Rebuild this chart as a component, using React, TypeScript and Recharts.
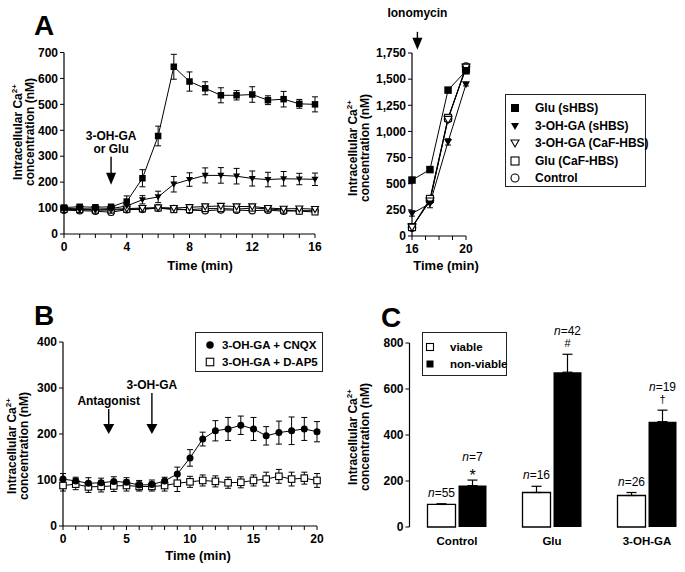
import React from "react"
import {
  ComposedChart,
  Line,
  Bar,
  XAxis,
  YAxis,
  ErrorBar,
  Legend,
  ReferenceDot,
} from "recharts"

const FONT = "'Liberation Sans', Arial, Helvetica, sans-serif"

// Panel A (left): Ca2+ time course, 0–16 min
const minutesA = [0, 1, 2, 3, 4, 5, 6, 7, 8, 9, 10, 11, 12, 13, 14, 15, 16]
const minuteLabelsA = [0, 4, 8, 12, 16]
const concTicksA = [0, 100, 200, 300, 400, 500, 600, 700]
const gluSHBS = [102, 105, 103, 105, 125, 215, 378, 645, 588, 562, 535, 535, 538, 516, 520, 502, 500]
const gluSHBSErr = [8, 8, 8, 8, 22, 33, 38, 48, 37, 25, 29, 18, 30, 17, 30, 17, 29]
const ohgaSHBS = [97, 96, 95, 98, 108, 132, 143, 192, 210, 226, 226, 223, 214, 210, 213, 212, 211]
const ohgaSHBSErr = [7, 6, 6, 6, 8, 16, 22, 30, 26, 29, 30, 30, 29, 28, 28, 22, 24]
const ohgaCaF = [98, 97, 96, 95, 98, 100, 102, 100, 103, 106, 108, 106, 106, 100, 97, 98, 96]
const ohgaCaFErr = [6, 6, 6, 6, 6, 6, 6, 6, 6, 8, 8, 8, 8, 6, 6, 6, 6]
const gluCaF = [95, 94, 92, 92, 95, 97, 100, 94, 94, 98, 98, 96, 100, 97, 92, 88, 85]
const gluCaFErr = [6, 6, 6, 6, 6, 6, 6, 6, 8, 8, 8, 10, 8, 6, 6, 6, 8]
const control = [92, 90, 88, 84, 94, 95, 100, 98, 92, 90, 93, 92, 90, 92, 88, 90, 90]
const controlErr = [6, 6, 6, 10, 5, 5, 5, 5, 5, 5, 5, 5, 5, 5, 5, 5, 5]

// Panel A (right): ionomycin calibration, 16–20 min
const minutesIono = [16, 17.33, 18.67, 20]
const minuteTicksIono = [16, 17, 18, 19, 20]
const minuteLabelsIono = [16, 20]
const concTicksIono = [0, 250, 500, 750, 1000, 1250, 1500, 1750]
const gluSHBSIono = [535, 635, 1395, 1580]
const gluSHBSIonoErr = [15, 15, 20, 20]
const ohgaSHBSIono = [215, 310, 900, 1450]
const ohgaSHBSIonoErr = [25, 40, 30, 15]
const ohgaCaFIono = [85, 335, 1115, 1615]
const gluCaFIono = [85, 355, 1130, 1600]
const controlIono = [80, 340, 1120, 1620]
const openIonoErr = [10, 15, 15, 25]

// Panel B: antagonists
const minutesB = [0, 1, 2, 3, 4, 5, 6, 7, 8, 9, 10, 11, 12, 13, 14, 15, 16, 17, 18, 19, 20]
const minuteLabelsB = [0, 5, 10, 15, 20]
const concTicksB = [0, 100, 200, 300, 400]
const cnqx = [102, 98, 93, 94, 97, 95, 89, 90, 98, 113, 148, 189, 207, 211, 219, 211, 196, 203, 207, 211, 205]
const cnqxErr = [12, 8, 12, 10, 10, 10, 10, 10, 8, 15, 18, 15, 22, 25, 20, 25, 20, 25, 30, 25, 22]
const dap5 = [88, 91, 85, 86, 87, 88, 86, 86, 88, 93, 96, 99, 97, 94, 95, 99, 102, 108, 102, 104, 99]
const dap5Err = [12, 12, 12, 12, 12, 12, 10, 10, 12, 18, 12, 12, 12, 12, 12, 12, 15, 15, 15, 13, 15]

// Panel C: viable vs non-viable cells
const groupsC = ["Control", "Glu", "3-OH-GA"]
const concTicksC = [0, 200, 400, 600, 800]
const viable = [98, 150, 137]
const viableErr = [3, 27, 13]
const viableN = [55, 16, 26]
const nonViable = [180, 673, 458]
const nonViableErr = [24, 78, 50]
const nonViableN = [7, 42, 19]
const nonViableMark = ["*", "#", "†"]

type Kind = "square" | "squareOpen" | "tri" | "triOpen" | "circle" | "circleOpen"

const tickFont = { fontFamily: FONT, fontSize: 12, fontWeight: 700, fill: "#000" }
const axisLine = { stroke: "#000", strokeWidth: 1.2 }

function Marker({ cx, cy, kind, size = 7 }: { cx: number; cy: number; kind: Kind; size?: number }) {
  const h = size / 2
  const open = kind.endsWith("Open")
  const fill = open ? "#fff" : "#000"
  const sw = open ? 1.1 : 0
  if (kind.startsWith("square"))
    return <rect x={cx - h} y={cy - h} width={size} height={size} fill={fill} stroke="#000" strokeWidth={sw} />
  if (kind.startsWith("tri"))
    return (
      <polygon
        points={`${cx - h},${cy - h * 0.75} ${cx + h},${cy - h * 0.75} ${cx},${cy + h}`}
        fill={fill}
        stroke="#000"
        strokeWidth={sw}
      />
    )
  return <circle cx={cx} cy={cy} r={h} fill={fill} stroke="#000" strokeWidth={sw} />
}

const dotOf = (id: string, kind: Kind, size?: number) => (p: any) =>
  p.cx == null || p.cy == null ? (
    <g key={`${id}-${p.index}`} />
  ) : (
    <Marker key={`${id}-${p.index}`} cx={p.cx} cy={p.cy} kind={kind} size={size} />
  )

function Arrow(props: { cx: number; cy: number; len: number; head: number; headW: number; lines: string[]; offs: number[] }) {
  const { cx, cy, len, head, headW, lines, offs } = props
  return (
    <g>
      <line x1={cx} y1={cy - len} x2={cx} y2={cy - head + 1} stroke="#000" strokeWidth={1.4} />
      <polygon points={`${cx - headW / 2},${cy - head} ${cx + headW / 2},${cy - head} ${cx},${cy}`} fill="#000" />
      {lines.map((l, i) => (
        <text key={l} x={cx} y={cy - offs[i]} textAnchor="middle" style={tickFont}>
          {l}
        </text>
      ))}
    </g>
  )
}

function YTitle({ bx1, bx2, ty }: { bx1: number; bx2: number; ty: number }) {
  const st = { fontFamily: FONT, fontWeight: 700, fontSize: 12, fill: "#000" }
  return (
    <g>
      <text transform={`translate(${bx1},${ty}) rotate(-90)`} textAnchor="middle" style={st}>
        Intracellular Ca
        <tspan dy={-5} style={{ fontSize: 8 }}>
          2+
        </tspan>
      </text>
      <text transform={`translate(${bx2},${ty}) rotate(-90)`} textAnchor="middle" style={st}>
        concentration (nM)
      </text>
    </g>
  )
}

function XTitle({ tx, ty }: { tx: number; ty: number }) {
  return (
    <text x={tx} y={ty} textAnchor="middle" style={{ ...tickFont, fontSize: 13 }}>
      Time (min)
    </text>
  )
}

type LegendItem = { name: string; kind: Kind }

function LegendBox(props: {
  items: LegendItem[]
  width: number
  height: number
  first: number
  step: number
  symX: number
  textX: number
  fontSize: number
  symSize: number
}) {
  const { items, width, height, first, step, symX, textX, fontSize, symSize } = props
  return (
    <div
      style={{
        position: "relative",
        width,
        height,
        boxSizing: "border-box",
        border: "1px solid #222",
        background: "#fff",
        fontFamily: FONT,
        fontWeight: 700,
        fontSize,
        color: "#000",
      }}
    >
      {items.map((it, i) => (
        <div key={it.name} style={{ position: "absolute", left: 0, top: first + i * step - 9, height: 18, width: "100%" }}>
          <svg width={16} height={18} style={{ position: "absolute", left: symX - 9, top: 0 }}>
            <Marker cx={8} cy={9} kind={it.kind} size={symSize} />
          </svg>
          <span style={{ position: "absolute", left: textX - 1, top: 0, lineHeight: "18px", whiteSpace: "nowrap" }}>
            {it.name}
          </span>
        </div>
      ))}
    </div>
  )
}

const legendA: LegendItem[] = [
  { name: "Glu (sHBS)", kind: "square" },
  { name: "3-OH-GA (sHBS)", kind: "tri" },
  { name: "3-OH-GA (CaF-HBS)", kind: "triOpen" },
  { name: "Glu (CaF-HBS)", kind: "squareOpen" },
  { name: "Control", kind: "circleOpen" },
]
const legendB: LegendItem[] = [
  { name: "3-OH-GA + CNQX", kind: "circle" },
  { name: "3-OH-GA + D-AP5", kind: "squareOpen" },
]
const legendC: LegendItem[] = [
  { name: "viable", kind: "squareOpen" },
  { name: "non-viable", kind: "square" },
]

const rowsA = minutesA.map((t, i) => ({
  t,
  gluSHBS: gluSHBS[i],
  gluSHBSErr: gluSHBSErr[i],
  ohgaSHBS: ohgaSHBS[i],
  ohgaSHBSErr: ohgaSHBSErr[i],
  ohgaCaF: ohgaCaF[i],
  ohgaCaFErr: ohgaCaFErr[i],
  gluCaF: gluCaF[i],
  gluCaFErr: gluCaFErr[i],
  control: control[i],
  controlErr: controlErr[i],
}))

const rowsIono = minutesIono.map((t, i) => ({
  t,
  gluSHBS: gluSHBSIono[i],
  gluSHBSErr: gluSHBSIonoErr[i],
  ohgaSHBS: ohgaSHBSIono[i],
  ohgaSHBSErr: ohgaSHBSIonoErr[i],
  ohgaCaF: ohgaCaFIono[i],
  ohgaCaFErr: openIonoErr[i],
  gluCaF: gluCaFIono[i],
  gluCaFErr: openIonoErr[i],
  control: controlIono[i],
  controlErr: openIonoErr[i],
}))

const rowsB = minutesB.map((t, i) => ({ t, cnqx: cnqx[i], cnqxErr: cnqxErr[i], dap5: dap5[i], dap5Err: dap5Err[i] }))

const rowsC = groupsC.map((name, i) => ({
  name,
  viable: viable[i],
  viableErr: [0, viableErr[i]],
  nonViable: nonViable[i],
  nonViableErr: [0, nonViableErr[i]],
}))

// drawn back to front
const seriesA: { key: string; kind: Kind; size: number }[] = [
  { key: "control", kind: "circleOpen", size: 6.5 },
  { key: "gluCaF", kind: "squareOpen", size: 6 },
  { key: "ohgaCaF", kind: "triOpen", size: 7 },
  { key: "ohgaSHBS", kind: "tri", size: 7 },
  { key: "gluSHBS", kind: "square", size: 6.5 },
]

function seriesLines(rowsKey: string, big = false) {
  return seriesA.map((s) => (
    <Line
      key={`${rowsKey}-${s.key}`}
      dataKey={s.key}
      type="linear"
      stroke="#000"
      strokeWidth={1}
      dot={dotOf(`${rowsKey}-${s.key}`, s.kind, big ? s.size + 1 : s.size)}
      activeDot={false}
      isAnimationActive={false}
    >
      <ErrorBar dataKey={`${s.key}Err`} direction="y" width={3} stroke="#000" strokeWidth={1} />
    </Line>
  ))
}

const onlyLabels = (labels: number[]) => (v: number) => (labels.includes(v) ? String(v) : "")

const nLabel = (values: number[], errs: number[], ns: number[], marks?: string[]) => (p: any) => {
  const vb = p.viewBox ?? {}
  const x = p.x ?? vb.x
  const y = p.y ?? vb.y
  const width = p.width ?? vb.width
  const height = p.height ?? vb.height
  const idx = typeof p.index === "number" ? p.index : values.indexOf(p.value)
  if (x == null || y == null || idx < 0) return null
  const top = y - (errs[idx] * height) / values[idx]
  const cx = x + width / 2
  const nf = { fontFamily: FONT, fontSize: 12, fill: "#000" }
  return (
    <g key={`nl-${idx}-${ns[idx]}`}>
      <text x={cx} y={marks ? top - 19 : top - 7} textAnchor="middle" style={nf}>
        <tspan style={{ fontStyle: "italic" }}>n</tspan>={ns[idx]}
      </text>
      {marks && (
        <text
          x={cx}
          y={marks[idx] === "*" ? top + 1 : top - 7}
          textAnchor="middle"
          style={{ ...nf, fontSize: marks[idx] === "*" ? 16 : 11 }}
        >
          {marks[idx]}
        </text>
      )}
    </g>
  )
}

const letter = (ch: string, left: number, top: number) => (
  <div
    style={{
      position: "absolute",
      left,
      top,
      fontFamily: FONT,
      fontWeight: 700,
      fontSize: 28,
      lineHeight: 1,
      color: "#000",
    }}
  >
    {ch}
  </div>
)

export default function App() {
  return (
    <div
      style={{
        position: "absolute",
        left: 0,
        top: 0,
        width: 685,
        height: 572,
        overflow: "hidden",
        background: "#fff",
      }}
    >
      {letter("A", 34, 12)}
      {letter("B", 34, 302)}
      {letter("C", 381, 304)}

      {/* A, left */}
      <div style={{ position: "absolute", left: 0, top: 0 }}>
        <ComposedChart width={330} height={285} data={rowsA} margin={{ top: 52.5, right: 15, bottom: 21, left: 0 }}>
          <XAxis
            type="number"
            dataKey="t"
            domain={[0, 16]}
            ticks={minutesA}
            interval={0}
            tickFormatter={onlyLabels(minuteLabelsA)}
            height={30}
            tickSize={4}
            tickMargin={4}
            tick={tickFont}
            axisLine={axisLine}
            tickLine={{ stroke: "#000" }}
            label={<XTitle tx={200} ty={270} />}
          />
          <YAxis
            type="number"
            domain={[0, 700]}
            ticks={concTicksA}
            interval={0}
            width={64}
            tickSize={4}
            tickMargin={2}
            tick={tickFont}
            axisLine={axisLine}
            tickLine={{ stroke: "#000" }}
            label={<YTitle bx1={22} bx2={34} ty={132} />}
          />
          {seriesLines("a")}
          <ReferenceDot
            x={3}
            y={190}
            ifOverflow="visible"
            shape={(p: any) => (
              <Arrow cx={p.cx} cy={p.cy} len={28} head={12} headW={10} lines={["3-OH-GA", "or Glu"]} offs={[45, 32]} />
            )}
          />
        </ComposedChart>
      </div>

      {/* A, right: ionomycin */}
      <div style={{ position: "absolute", left: 340, top: 0 }}>
        <ComposedChart width={345} height={285} data={rowsIono} margin={{ top: 53, right: 219, bottom: 19, left: 0 }}>
          <XAxis
            type="number"
            dataKey="t"
            domain={[16, 20]}
            ticks={minuteTicksIono}
            interval={0}
            tickFormatter={onlyLabels(minuteLabelsIono)}
            height={30}
            tickSize={4}
            tickMargin={4}
            tick={tickFont}
            axisLine={axisLine}
            tickLine={{ stroke: "#000" }}
            label={<XTitle tx={106} ty={270} />}
          />
          <YAxis
            type="number"
            domain={[0, 1750]}
            ticks={concTicksIono}
            interval={0}
            width={72}
            tickSize={4}
            tickMargin={2}
            tick={tickFont}
            tickFormatter={(v: number) => v.toLocaleString("en-US")}
            axisLine={axisLine}
            tickLine={{ stroke: "#000" }}
            label={<YTitle bx1={17} bx2={29} ty={148} />}
          />
          {seriesLines("i", true)}
          <ReferenceDot
            x={16.4}
            y={1780}
            ifOverflow="visible"
            shape={(p: any) => (
              <Arrow cx={p.cx} cy={p.cy} len={18} head={12} headW={10} lines={["Ionomycin"]} offs={[33]} />
            )}
          />
          <Legend
            layout="vertical"
            align="center"
            verticalAlign="middle"
            wrapperStyle={{ left: 165, top: 94, width: 141, height: 93 }}
            content={() => (
              <LegendBox items={legendA} width={141} height={93} first={13} step={17.5} symX={10} textX={30} fontSize={12} symSize={8} />
            )}
          />
        </ComposedChart>
      </div>

      {/* B */}
      <div style={{ position: "absolute", left: 0, top: 290 }}>
        <ComposedChart width={330} height={282} data={rowsB} margin={{ top: 52, right: 13, bottom: 16, left: 0 }}>
          <XAxis
            type="number"
            dataKey="t"
            domain={[0, 20]}
            ticks={minutesB}
            interval={0}
            tickFormatter={onlyLabels(minuteLabelsB)}
            height={30}
            tickSize={4}
            tickMargin={4}
            tick={tickFont}
            axisLine={axisLine}
            tickLine={{ stroke: "#000" }}
            label={<XTitle tx={198} ty={270} />}
          />
          <YAxis
            type="number"
            domain={[0, 400]}
            ticks={concTicksB}
            interval={0}
            width={63}
            tickSize={4}
            tickMargin={2}
            tick={tickFont}
            axisLine={axisLine}
            tickLine={{ stroke: "#000" }}
            label={<YTitle bx1={16} bx2={28} ty={156} />}
          />
          <Line
            dataKey="dap5"
            type="linear"
            stroke="#000"
            strokeWidth={1}
            dot={dotOf("dap5", "squareOpen", 6.5)}
            activeDot={false}
            isAnimationActive={false}
          >
            <ErrorBar dataKey="dap5Err" direction="y" width={3} stroke="#000" strokeWidth={1} />
          </Line>
          <Line
            dataKey="cnqx"
            type="linear"
            stroke="#000"
            strokeWidth={1}
            dot={dotOf("cnqx", "circle", 7)}
            activeDot={false}
            isAnimationActive={false}
          >
            <ErrorBar dataKey="cnqxErr" direction="y" width={3} stroke="#000" strokeWidth={1} />
          </Line>
          <ReferenceDot
            x={3.6}
            y={200}
            ifOverflow="visible"
            shape={(p: any) => (
              <Arrow cx={p.cx} cy={p.cy} len={25} head={10} headW={11} lines={["Antagonist"]} offs={[29]} />
            )}
          />
          <ReferenceDot
            x={7}
            y={200}
            ifOverflow="visible"
            shape={(p: any) => (
              <Arrow cx={p.cx} cy={p.cy} len={41} head={10} headW={11} lines={["3-OH-GA"]} offs={[45]} />
            )}
          />
          <Legend
            layout="vertical"
            align="center"
            verticalAlign="middle"
            wrapperStyle={{ left: 195, top: 42, width: 128, height: 40 }}
            content={() => (
              <LegendBox items={legendB} width={128} height={40} first={12} step={17} symX={15} textX={27} fontSize={11.5} symSize={7.5} />
            )}
          />
        </ComposedChart>
      </div>

      {/* C */}
      <div style={{ position: "absolute", left: 340, top: 290 }}>
        <ComposedChart
          width={360}
          height={282}
          data={rowsC}
          barGap={3}
          margin={{ top: 53, right: 5.5, bottom: 15, left: 0 }}
        >
          <XAxis
            dataKey="name"
            type="category"
            interval={0}
            axisLine={false}
            tickLine={false}
            tickSize={0}
            tickMargin={10}
            height={30}
            tick={{ ...tickFont, fontSize: 11.5 }}
          />
          <YAxis
            type="number"
            domain={[0, 800]}
            ticks={concTicksC}
            interval={0}
            width={69.5}
            tickSize={4}
            tickMargin={2}
            tick={tickFont}
            axisLine={axisLine}
            tickLine={{ stroke: "#000" }}
            label={<YTitle bx1={17} bx2={29} ty={147} />}
          />
          <Bar
            dataKey="viable"
            barSize={28}
            fill="#fff"
            stroke="#000"
            strokeWidth={1.3}
            isAnimationActive={false}
            label={nLabel(viable, viableErr, viableN)}
          >
            <ErrorBar dataKey="viableErr" direction="y" width={5} stroke="#000" strokeWidth={1.2} />
          </Bar>
          <Bar
            dataKey="nonViable"
            barSize={28}
            fill="#000"
            isAnimationActive={false}
            label={nLabel(nonViable, nonViableErr, nonViableN, nonViableMark)}
          >
            <ErrorBar dataKey="nonViableErr" direction="y" width={5} stroke="#000" strokeWidth={1.2} />
          </Bar>
          <Legend
            layout="vertical"
            align="center"
            verticalAlign="middle"
            wrapperStyle={{ left: 82, top: 42, width: 85, height: 44 }}
            content={() => (
              <LegendBox items={legendC} width={85} height={44} first={14} step={17} symX={8} textX={28} fontSize={11.5} symSize={7} />
            )}
          />
        </ComposedChart>
      </div>
    </div>
  )
}
